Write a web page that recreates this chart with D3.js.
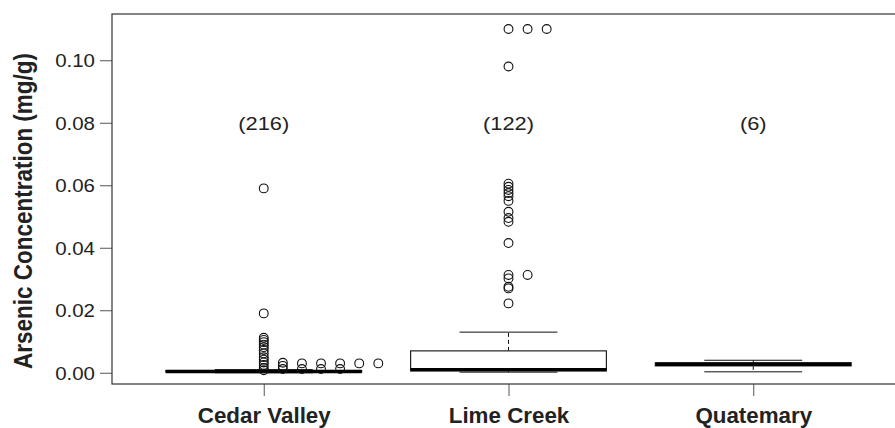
<!DOCTYPE html>
<html>
<head>
  <meta charset="utf-8">
  <script src="https://cdn.jsdelivr.net/npm/d3@7"></script>
  <style type="text/css">
    body {
      margin: 0;
      background: #fff;
      font-family: "Liberation Sans", Arial, Helvetica, sans-serif;
    }
    .axis text {
      fill: #222;
    }
    .axis line {
      stroke: #555;
    }
  </style>
</head>
<body>
  <script type="text/javascript">

  // categories and box stats (min whisker, q1, median, q3, max whisker)
  const categories = ['Cedar Valley', 'Lime Creek', 'Quatemary'];
  const counts = ['(216)', '(122)', '(6)'];
  const lowWhisker = [0.0000, 0.0002, 0.0003];
  const q1 = [0.0002, 0.0006, 0.0022];
  const median = [0.0004, 0.0010, 0.0027];
  const q3 = [0.0007, 0.0070, 0.0032];
  const highWhisker = [0.0010, 0.0130, 0.0040];

  // outliers: [value, column slot] per category
  const cedarOutliers = [
    [0.059, 0], [0.019, 0], [0.0112, 0], [0.0105, 0], [0.0098, 0], [0.0090, 0],
    [0.0082, 0], [0.0073, 0], [0.0062, 0], [0.0050, 0], [0.0042, 0], [0.0033, 0],
    [0.0025, 0], [0.0015, 0], [0.0008, 0],
    [0.0032, 1], [0.0022, 1], [0.0012, 1],
    [0.0030, 2], [0.0012, 2],
    [0.0030, 3], [0.0012, 3],
    [0.0030, 4], [0.0012, 4],
    [0.0030, 5],
    [0.0030, 6]
  ];
  const limeOutliers = [
    [0.110, 0], [0.110, 1], [0.110, 2], [0.098, 0],
    [0.0605, 0], [0.0595, 0], [0.0585, 0], [0.0575, 0], [0.0565, 0], [0.0550, 0],
    [0.0515, 0], [0.0495, 0], [0.0483, 0], [0.0415, 0],
    [0.0313, 0], [0.0302, 0], [0.0275, 0], [0.0270, 0], [0.0222, 0],
    [0.0313, 1]
  ];
  const quatOutliers = [];
  const outliers = [cedarOutliers, limeOutliers, quatOutliers];

  const yTicks = [0, 0.02, 0.04, 0.06, 0.08, 0.10];
  const countLevel = 0.08;

  const width = 895, height = 428;
  const sx = 1.17; // the source figure was stretched horizontally

  const svg = d3.select('body').append('svg')
    .attr('width', width)
    .attr('height', height);

  // positions follow R boxplot: group i at x = i+1, box width 0.8
  const x = d3.scaleLinear().domain([0.38, 3.62]).range([112, 905]);
  const y = d3.scaleLinear().domain([-0.0036, 0.1148]).range([384, 14]);
  const boxHalf = 0.4, capHalf = 0.2, slotStep = 0.078;

  // y axis
  const gy = svg.append('g').attr('class', 'axis')
    .attr('transform', `translate(${x(0.38)},0)`)
    .call(d3.axisLeft(y).tickValues(yTicks).tickFormat(d3.format('.2f')).tickSize(12).tickPadding(0));
  gy.select('.domain').remove();
  gy.selectAll('text')
    .attr('x', -17 / sx)
    .attr('dy', '0.36em')
    .attr('transform', `scale(${sx},1)`)
    .style('font-size', '17.5px')
    .style('font-family', '"Liberation Sans", Arial, sans-serif');

  // x axis
  const gx = svg.append('g').attr('class', 'axis')
    .attr('transform', `translate(0,${y(-0.0036)})`)
    .call(d3.axisBottom(x).tickValues([1, 2, 3]).tickFormat((d) => categories[d - 1]).tickSize(12).tickPadding(0));
  gx.select('.domain').remove();
  gx.selectAll('.tick text')
    .attr('y', 0)
    .attr('dy', 0)
    .attr('transform', `translate(0,39) scale(1.04,1)`)
    .style('font-size', '21.5px')
    .style('font-weight', 'bold')
    .style('font-family', '"Liberation Sans", Arial, sans-serif');

  // frame
  svg.append('rect')
    .attr('x', x(0.38)).attr('y', y(0.1148))
    .attr('width', x(3.62) - x(0.38)).attr('height', y(-0.0036) - y(0.1148))
    .attr('fill', 'none').attr('stroke', '#333').attr('stroke-width', 1.2);

  // y title
  svg.append('text')
    .attr('transform', `translate(31.5,${(y(0.1148) + y(-0.0036)) / 2 + 12}) scale(1.12,1) rotate(-90)`)
    .attr('text-anchor', 'middle')
    .style('font-size', '22.5px')
    .style('font-weight', 'bold')
    .style('fill', '#222')
    .text('Arsenic Concentration (mg/g)');

  const boxes = categories.map((c, i) => ({
    pos: i + 1, lo: lowWhisker[i], q1: q1[i], med: median[i], q3: q3[i], hi: highWhisker[i]
  }));

  const g = svg.append('g');
  const b = g.selectAll('g.box').data(boxes).enter().append('g').attr('class', 'box');

  // dashed whiskers
  b.append('line')
    .attr('x1', (d) => x(d.pos)).attr('x2', (d) => x(d.pos))
    .attr('y1', (d) => y(d.q3)).attr('y2', (d) => y(d.hi))
    .attr('stroke', '#111').attr('stroke-dasharray', '4,3');
  b.append('line')
    .attr('x1', (d) => x(d.pos)).attr('x2', (d) => x(d.pos))
    .attr('y1', (d) => y(d.q1)).attr('y2', (d) => y(d.lo))
    .attr('stroke', '#111').attr('stroke-dasharray', '4,3');
  // staples
  b.append('line')
    .attr('x1', (d) => x(d.pos - capHalf)).attr('x2', (d) => x(d.pos + capHalf))
    .attr('y1', (d) => y(d.hi)).attr('y2', (d) => y(d.hi))
    .attr('stroke', '#111');
  b.append('line')
    .attr('x1', (d) => x(d.pos - capHalf)).attr('x2', (d) => x(d.pos + capHalf))
    .attr('y1', (d) => y(d.lo)).attr('y2', (d) => y(d.lo))
    .attr('stroke', '#111');
  // box
  b.append('rect')
    .attr('x', (d) => x(d.pos - boxHalf))
    .attr('width', (d) => x(d.pos + boxHalf) - x(d.pos - boxHalf))
    .attr('y', (d) => y(d.q3))
    .attr('height', (d) => Math.max(0, y(d.q1) - y(d.q3)))
    .attr('fill', '#fff').attr('stroke', '#222').attr('stroke-width', 1.2);
  // median
  b.append('line')
    .attr('x1', (d) => x(d.pos - boxHalf)).attr('x2', (d) => x(d.pos + boxHalf))
    .attr('y1', (d) => y(d.med)).attr('y2', (d) => y(d.med))
    .attr('stroke', '#000').attr('stroke-width', 3.4);

  // outliers
  outliers.forEach((list, i) => {
    g.selectAll(`circle.o${i}`).data(list).enter().append('circle')
      .attr('class', `o${i}`)
      .attr('cx', (d) => x(i + 1 + d[1] * slotStep))
      .attr('cy', (d) => y(d[0]))
      .attr('r', 4.4)
      .attr('fill', 'none').attr('stroke', '#111').attr('stroke-width', 1.1);
  });

  // counts
  svg.selectAll('text.count').data(counts).enter().append('text')
    .attr('class', 'count')
    .attr('transform', (d, i) => `translate(${x(i + 1)},${y(countLevel) + 7}) scale(1.15,1)`)
    .attr('text-anchor', 'middle')
    .style('font-size', '19px')
    .style('fill', '#222')
    .text((d) => d);

  </script>
</body>
</html>
